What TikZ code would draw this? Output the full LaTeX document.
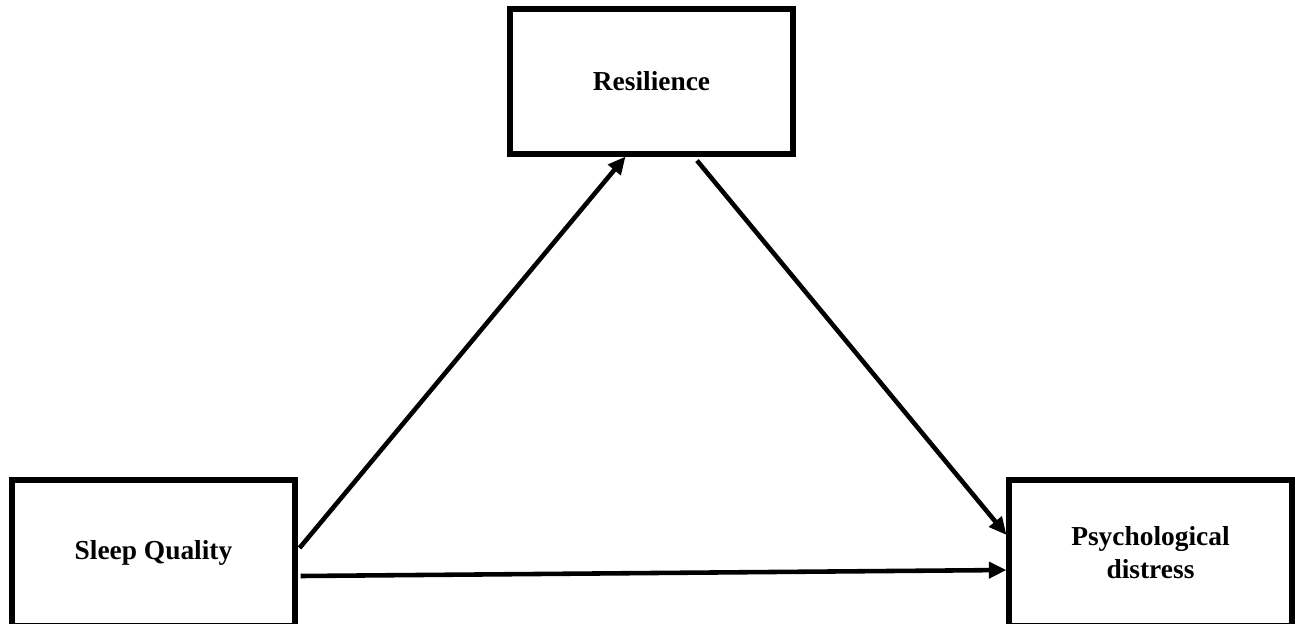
\documentclass[tikz,border=0pt]{standalone}
\usepackage{fontspec}
\setmainfont{Liberation Serif}
\usetikzlibrary{arrows.meta,calc}
\begin{document}
\begin{tikzpicture}[x=0.02cm,y=-0.02cm,
  box/.style={draw=black,line width=2.9pt,rectangle,fill=white,minimum width=5.66cm,
    align=center,font=\fontsize{15.6}{18.7}\selectfont\bfseries,inner sep=0pt},
  conn/.style={line width=2.6pt,-{Triangle[length=10pt,width=9pt]}}]
\useasboundingbox (0,0) rectangle (1295,623);
\clip (0,0) rectangle (1295,623);
\fill[white] (0,0) rectangle (1295,623);
\node[box,minimum height=2.9cm] (res) at (651.5,81.5) {Resilience};
\node[box,minimum height=2.92cm] (sq) at (153.5,553) {Sleep Quality};
\node[box,minimum height=2.92cm] (pd) at (1150.5,553) {Psychological\\distress};
\coordinate (a1s) at ($(sq.east)+(2,-5)$);
\coordinate (a1e) at ($(res.south)+(-26,0)$);
\coordinate (a2s) at ($(res.south)+(45.5,4)$);
\coordinate (a2e) at ($(pd.west)+(0,-18)$);
\coordinate (a3s) at ($(sq.east)+(3,23)$);
\coordinate (a3e) at ($(pd.west)+(0,17)$);
\draw[conn] (a1s) -- (a1e);
\draw[conn] (a2s) -- (a2e);
\draw[conn] (a3s) -- (a3e);
\end{tikzpicture}
\end{document}
